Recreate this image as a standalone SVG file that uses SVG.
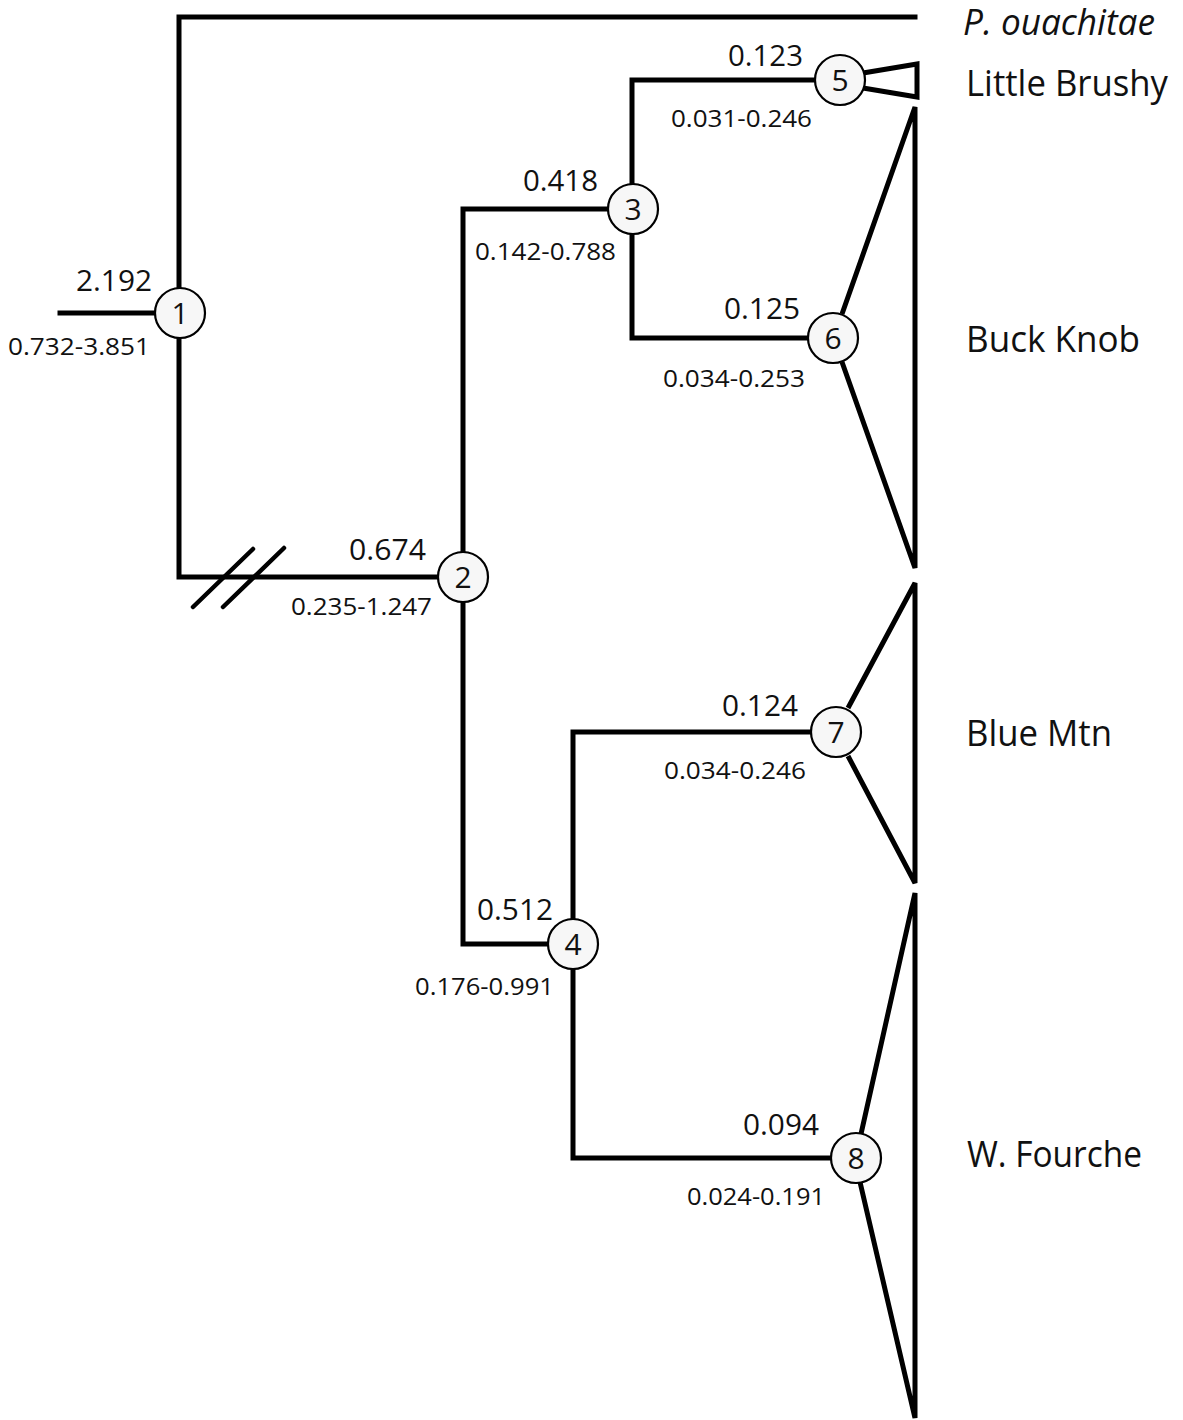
<svg xmlns="http://www.w3.org/2000/svg" width="1183" height="1420" viewBox="0 0 1183 1420">
<style>
.br{fill:none;stroke:#000;stroke-width:5;stroke-linecap:square;stroke-linejoin:miter}
.tri{fill:none;stroke:#000;stroke-width:5;stroke-linejoin:miter}
.hash{stroke:#000;stroke-width:4.5;stroke-linecap:round}
.nc{fill:#f7f7f7;stroke:#000;stroke-width:2.2}
.nt{font-family:"Open Sans","Liberation Sans",sans-serif;font-size:30px;fill:#111;text-anchor:middle}
.up{font-family:"Open Sans","Liberation Sans",sans-serif;font-size:30px;fill:#111}
.rg{font-family:"Open Sans","Liberation Sans",sans-serif;font-size:24px;fill:#111}
.tx{font-family:"Open Sans","Liberation Sans",sans-serif;font-size:36px;fill:#111}
</style>
<rect width="1183" height="1420" fill="#fff"/>
<g id="connectors">
<path class="br" d="M60,313 H179"/>
<path class="br" d="M915,17 H179 V577 H463"/>
<path class="br" d="M632,209 H463 V944 H573"/>
<path class="br" d="M840,80 H632 V338 H833"/>
<path class="br" d="M836,732 H573 V1158 H856"/>
<line class="hash" x1="193" y1="607" x2="253" y2="549"/>
<line class="hash" x1="223" y1="607" x2="284" y2="548"/>
<path class="tri" d="M863,73 L917,64 V97 L863,88"/>
<path class="tri" d="M842,314 L915,107 V568 L842,362"/>
<path class="tri" d="M848,708 L915,583 V883 L848,756"/>
<path class="tri" d="M861,1134 L915,893 V1418 L860,1182"/>
</g>
<g id="node1"><circle class="nc" cx="180" cy="313" r="25"/><text class="nt" x="180" y="324">1</text></g>
<g id="node2"><circle class="nc" cx="463" cy="577" r="25"/><text class="nt" x="463" y="588">2</text></g>
<g id="node3"><circle class="nc" cx="633" cy="209" r="25"/><text class="nt" x="633" y="220">3</text></g>
<g id="node4"><circle class="nc" cx="573" cy="944" r="25"/><text class="nt" x="573" y="955">4</text></g>
<g id="node5"><circle class="nc" cx="840" cy="80" r="25"/><text class="nt" x="840" y="91">5</text></g>
<g id="node6"><circle class="nc" cx="833" cy="338" r="25"/><text class="nt" x="833" y="349">6</text></g>
<g id="node7"><circle class="nc" cx="836" cy="732" r="25"/><text class="nt" x="836" y="743">7</text></g>
<g id="node8"><circle class="nc" cx="856" cy="1158" r="25"/><text class="nt" x="856" y="1169">8</text></g>
<g id="branch-labels">
<text class="up" x="76" y="291" textLength="76" lengthAdjust="spacingAndGlyphs">2.192</text>
<text class="rg" x="8" y="355" textLength="142" lengthAdjust="spacingAndGlyphs">0.732-3.851</text>
<text class="up" x="349" y="560" textLength="77" lengthAdjust="spacingAndGlyphs">0.674</text>
<text class="rg" x="291" y="615" textLength="141" lengthAdjust="spacingAndGlyphs">0.235-1.247</text>
<text class="up" x="523" y="191" textLength="75" lengthAdjust="spacingAndGlyphs">0.418</text>
<text class="rg" x="475" y="260" textLength="141" lengthAdjust="spacingAndGlyphs">0.142-0.788</text>
<text class="up" x="724" y="319" textLength="76" lengthAdjust="spacingAndGlyphs">0.125</text>
<text class="rg" x="663" y="387" textLength="142" lengthAdjust="spacingAndGlyphs">0.034-0.253</text>
<text class="up" x="728" y="66" textLength="75" lengthAdjust="spacingAndGlyphs">0.123</text>
<text class="rg" x="671" y="127" textLength="141" lengthAdjust="spacingAndGlyphs">0.031-0.246</text>
<text class="up" x="722" y="716" textLength="76" lengthAdjust="spacingAndGlyphs">0.124</text>
<text class="rg" x="664" y="779" textLength="142" lengthAdjust="spacingAndGlyphs">0.034-0.246</text>
<text class="up" x="477" y="920" textLength="76" lengthAdjust="spacingAndGlyphs">0.512</text>
<text class="rg" x="415" y="995" textLength="139" lengthAdjust="spacingAndGlyphs">0.176-0.991</text>
<text class="up" x="743" y="1135" textLength="76" lengthAdjust="spacingAndGlyphs">0.094</text>
<text class="rg" x="687" y="1205" textLength="138" lengthAdjust="spacingAndGlyphs">0.024-0.191</text>
</g>
<g id="taxa">
<text class="tx" x="963" y="35" font-size="30" font-style="italic" textLength="192" lengthAdjust="spacingAndGlyphs">P. ouachitae</text>
<text class="tx" x="966" y="96" textLength="202" lengthAdjust="spacingAndGlyphs">Little Brushy</text>
<text class="tx" x="966" y="352" textLength="174" lengthAdjust="spacingAndGlyphs">Buck Knob</text>
<text class="tx" x="966" y="746" textLength="146" lengthAdjust="spacingAndGlyphs">Blue Mtn</text>
<text class="tx" x="967" y="1167" textLength="175" lengthAdjust="spacingAndGlyphs">W. Fourche</text>
</g>
</svg>
